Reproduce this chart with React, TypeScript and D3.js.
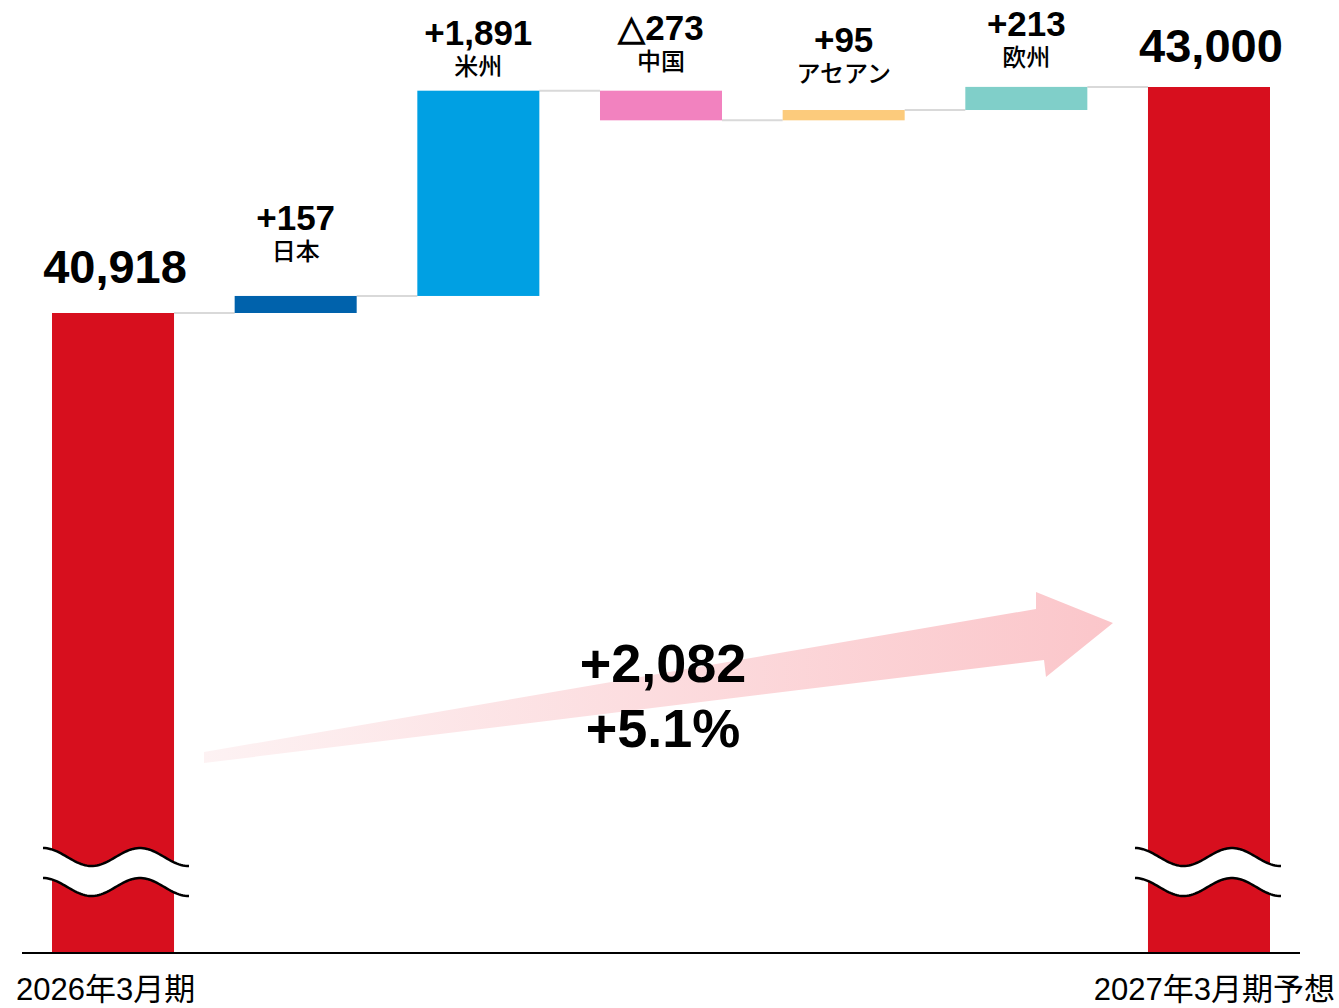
import React from "react";
import * as d3 from "d3";

// values (百万台 etc.)
const startLabel = "2026年3月期";
const endLabel = "2027年3月期予想";
const startValue = 40918;
const endValue = 43000;

const regions = ["日本", "米州", "中国", "アセアン", "欧州"];
const deltas = [157, 1891, -273, 95, 213];
const regionColors = ["#0062AC", "#00A0E3", "#F282BF", "#FCCB7C", "#80CFC9"];

const totalDiff = "+2,082";
const totalPct = "+5.1%";

// layout tweaks: how far each delta label sits above its bar
const labelLift = [66, 46, 51, 58, 51];

const W = 1339;
const H = 1008;
const baseY = 953;
const red = "#D70F1E";
const numFont = "'Liberation Sans', Arial, sans-serif";
const jpFont = "'Liberation Sans', 'Noto Sans CJK JP', sans-serif";

const fmt = (v: number) => (v < 0 ? "△" : "+") + d3.format(",")(Math.abs(v));

const App: React.FC = () => {
    const keys = ["start", ...regions, "end"];
    const x = d3.scaleBand<string>().domain(keys).range([52, 1270]).paddingInner(0.332).paddingOuter(0);
    const y = d3.scaleLinear().domain([startValue, endValue]).range([313, 87]);
    const bw = x.bandwidth();

    // running totals
    const steps: { key: string; from: number; to: number; color: string; delta: number; lift: number }[] = [];
    let acc = startValue;
    deltas.forEach((d, i) => {
        steps.push({ key: regions[i], from: acc, to: acc + d, color: regionColors[i], delta: d, lift: labelLift[i] });
        acc += d;
    });
    const levels = [startValue, ...steps.map((s) => s.to)];

    // wavy break marks
    const wave = (x0: number, yc: number) =>
        d3.range(0, 148, 2).map((t) => [x0 + t, yc - 9 * Math.cos((2 * Math.PI * t) / 97)] as [number, number]);
    const line = d3.line();
    const breakMark = (x0: number, k: string) => {
        const top = wave(x0, 857);
        const bot = wave(x0, 887);
        const band = [...top, ...bot.slice().reverse()];
        return (
            <g key={k}>
                <path d={line(band)! + "Z"} fill="#fff" />
                <path d={line(top)!} fill="none" stroke="#000" strokeWidth={2.5} />
                <path d={line(bot)!} fill="none" stroke="#000" strokeWidth={2.5} />
            </g>
        );
    };

    // big arrow
    const ax0 = x("start")! + bw + 30;
    const ax1 = x("end")! - 35;
    const arrow = [
        [ax0, 752], [1036, 609], [1036, 592], [ax1, 623], [1046, 677], [1044, 660], [ax0, 763],
    ] as [number, number][];

    return (
        <svg width={W} height={H} style={{ position: "absolute", left: 0, top: 0 }}>
            <defs>
                <linearGradient id="arrowGrad" gradientUnits="userSpaceOnUse" x1={ax0} y1={0} x2={ax1} y2={0}>
                    <stop offset="0" stopColor="#FDF2F3" />
                    <stop offset="1" stopColor="#FBC6CA" />
                </linearGradient>
            </defs>
            <rect width={W} height={H} fill="#fff" />

            {/* connectors */}
            {levels.map((v, i) => (
                <line key={"c" + i} x1={x(keys[i])! + bw} x2={x(keys[i + 1])!} y1={y(v)} y2={y(v)}
                    stroke="#D9D9D9" strokeWidth={2} />
            ))}

            {/* start & end bars */}
            <rect x={x("start")} y={y(startValue)} width={bw} height={baseY - y(startValue)} fill={red} />
            <rect x={x("end")} y={y(endValue)} width={bw} height={baseY - y(endValue)} fill={red} />

            {/* delta bars */}
            {steps.map((s) => {
                const top = y(Math.max(s.from, s.to));
                const bottom = y(Math.min(s.from, s.to));
                const cx = x(s.key)! + bw / 2;
                return (
                    <g key={s.key}>
                        <rect x={x(s.key)} y={top} width={bw} height={bottom - top} fill={s.color} />
                        <text x={cx} y={top - s.lift} textAnchor="middle" fontFamily={numFont}
                            fontWeight="bold" fontSize={35}>{fmt(s.delta)}</text>
                        <text x={cx} y={top - s.lift + 30} textAnchor="middle" fontFamily={jpFont}
                            fontWeight={500} fontSize={24}>{s.key}</text>
                    </g>
                );
            })}

            {/* totals */}
            <text x={x("start")! + bw / 2 + 2} y={y(startValue) - 30} textAnchor="middle" fontFamily={numFont}
                fontWeight="bold" fontSize={47}>{d3.format(",")(startValue)}</text>
            <text x={x("end")! + bw / 2 + 2} y={y(endValue) - 25} textAnchor="middle" fontFamily={numFont}
                fontWeight="bold" fontSize={47}>{d3.format(",")(endValue)}</text>

            {breakMark(x("start")! - 9, "b0")}
            {breakMark(x("end")! - 13, "b1")}

            {/* arrow + total change */}
            <path d={line(arrow)! + "Z"} fill="url(#arrowGrad)" />
            <text x={663} y={682} textAnchor="middle" fontFamily={numFont} fontWeight="bold" fontSize={54}>{totalDiff}</text>
            <text x={663} y={747} textAnchor="middle" fontFamily={numFont} fontWeight="bold" fontSize={54}>{totalPct}</text>

            {/* axis */}
            <line x1={22} x2={1300} y1={baseY} y2={baseY} stroke="#000" strokeWidth={2} />
            <text x={16} y={1000} fontFamily={jpFont} fontSize={31}>{startLabel}</text>
            <text x={1335} y={1000} textAnchor="end" fontFamily={jpFont} fontSize={31}>{endLabel}</text>
        </svg>
    );
};

export default App;
